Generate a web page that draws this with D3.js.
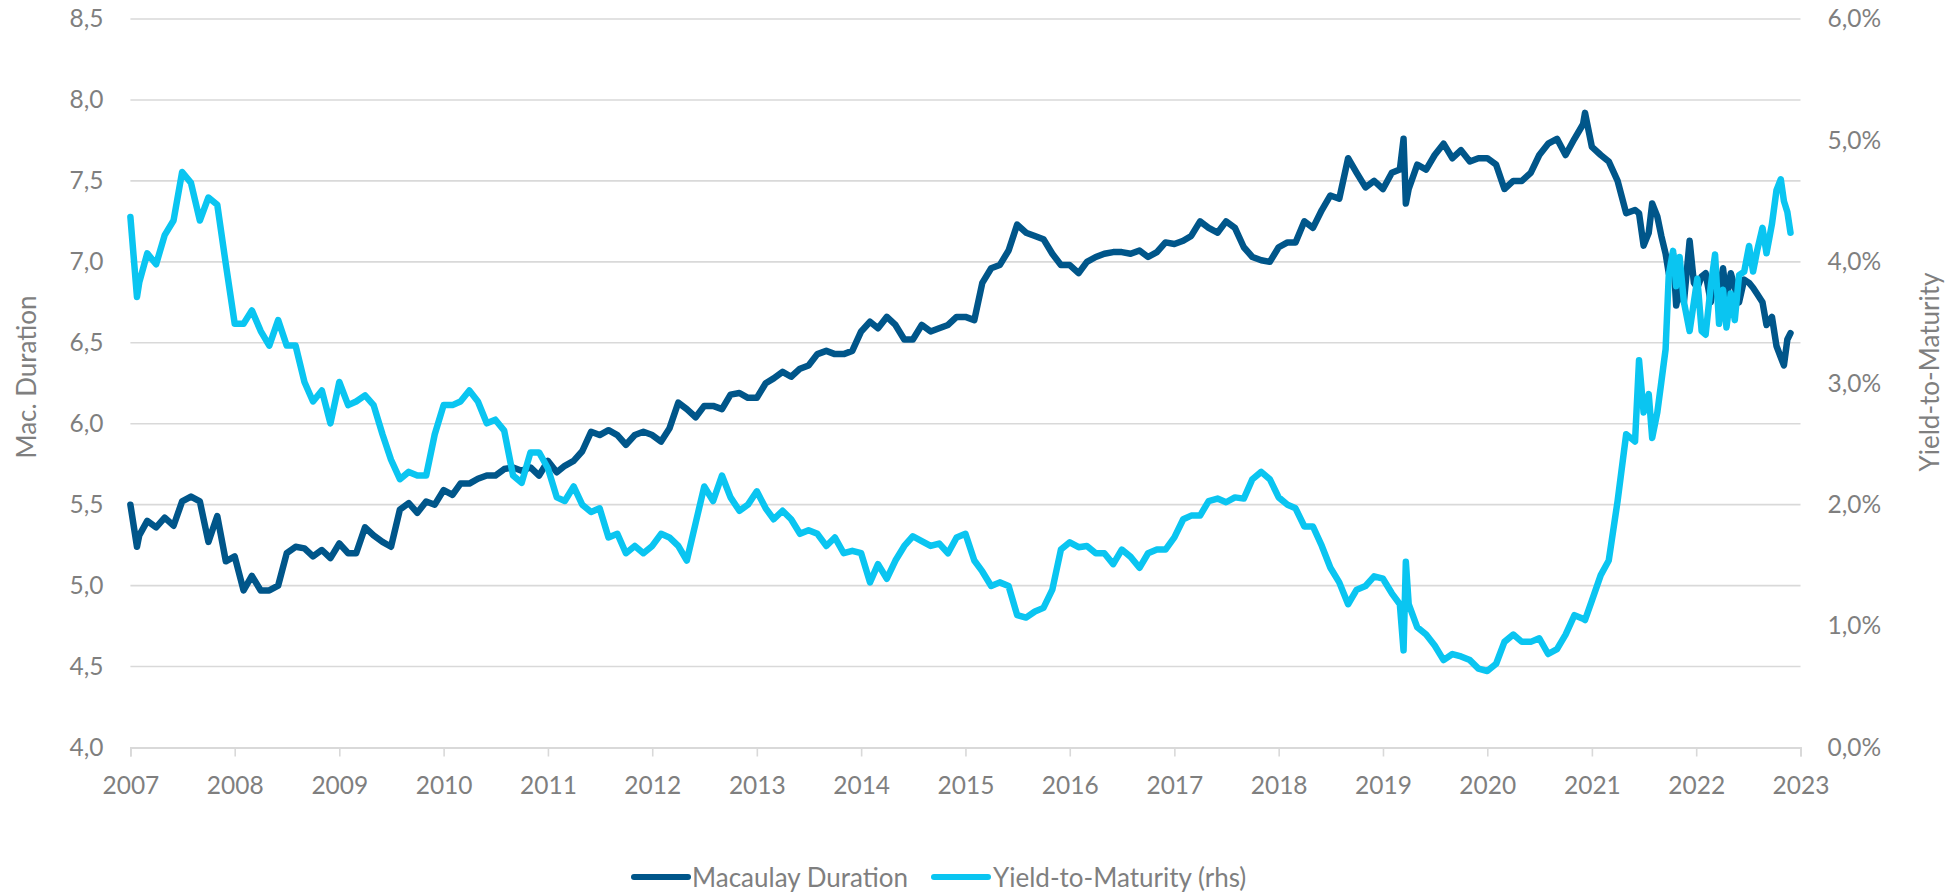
<!DOCTYPE html>
<html><head><meta charset="utf-8">
<script src="https://cdn.jsdelivr.net/npm/d3@7"></script>
<style>
body{margin:0;background:#fff}
svg text{font-family:Lato,"Open Sans",sans-serif;fill:#7f7f7f}
</style>
</head><body>
<svg id="chart" width="1946" height="892"></svg>
<script>
// ---- data ----
const dates = [
"2007-01-01","2007-01-24","2007-02","2007-03","2007-04","2007-05","2007-06","2007-07","2007-08","2007-09","2007-10","2007-11","2007-12",
"2008-01","2008-02","2008-03","2008-04","2008-05","2008-06","2008-07","2008-08","2008-09","2008-10","2008-11","2008-12",
"2009-01","2009-02","2009-03","2009-04","2009-05","2009-06","2009-07","2009-08","2009-09","2009-10","2009-11","2009-12",
"2010-01","2010-02","2010-03","2010-04","2010-05","2010-06","2010-07","2010-08","2010-09","2010-10","2010-11","2010-12",
"2011-01","2011-02","2011-03","2011-04","2011-05","2011-06","2011-07","2011-08","2011-09","2011-10","2011-11","2011-12",
"2012-01","2012-02","2012-03","2012-04","2012-05","2012-06","2012-07","2012-08","2012-09","2012-10","2012-11","2012-12",
"2013-01","2013-02","2013-03","2013-04","2013-05","2013-06","2013-07","2013-08","2013-09","2013-10","2013-11","2013-12",
"2014-01","2014-02","2014-03","2014-04","2014-05","2014-06","2014-07","2014-08","2014-09","2014-10","2014-11","2014-12",
"2015-01","2015-02","2015-03","2015-04","2015-05","2015-06","2015-07","2015-08","2015-09","2015-10","2015-11","2015-12",
"2016-01","2016-02","2016-03","2016-04","2016-05","2016-06","2016-07","2016-08","2016-09","2016-10","2016-11","2016-12",
"2017-01","2017-02","2017-03","2017-04","2017-05","2017-06","2017-07","2017-08","2017-09","2017-10","2017-11","2017-12",
"2018-01","2018-02","2018-03","2018-04","2018-05","2018-06","2018-07","2018-08","2018-09","2018-10","2018-11","2018-12",
"2019-01","2019-02","2019-03","2019-03-14","2019-03-22","2019-04","2019-05","2019-06","2019-07","2019-08","2019-09","2019-10","2019-11","2019-12",
"2020-01","2020-02","2020-03","2020-04","2020-05","2020-06","2020-07","2020-08","2020-09","2020-10","2020-11","2020-12","2020-12-08",
"2021-01","2021-02","2021-03","2021-04","2021-05","2021-06","2021-06-15","2021-07-01","2021-07-19","2021-07-31","2021-08-18",
"2021-09-01","2021-09-16","2021-09-27","2021-10-12","2021-10-23","2021-11-04","2021-11-19","2021-12-09","2021-12-24",
"2022-01-05","2022-01-20","2022-02-03","2022-02-21","2022-03-08","2022-03-22","2022-04-05","2022-04-17","2022-05-02","2022-05-16","2022-05-31",
"2022-06-18","2022-07-05","2022-07-19","2022-08-03","2022-08-21","2022-09-04","2022-09-23","2022-10-09","2022-10-24","2022-11-04","2022-11-16","2022-11-27"
];
const duration = [
5.50,5.24,5.31,5.40,5.36,5.42,5.37,5.52,5.55,5.52,5.27,5.43,5.15,
5.18,4.97,5.06,4.97,4.97,5.00,5.20,5.24,5.23,5.18,5.22,5.17,
5.26,5.20,5.20,5.36,5.31,5.27,5.24,5.47,5.51,5.45,5.52,5.50,
5.59,5.56,5.63,5.63,5.66,5.68,5.68,5.72,5.73,5.71,5.73,5.68,
5.77,5.70,5.74,5.77,5.83,5.95,5.93,5.96,5.93,5.87,5.93,5.95,
5.93,5.89,5.97,6.13,6.09,6.04,6.11,6.11,6.09,6.18,6.19,6.16,
6.16,6.25,6.28,6.32,6.29,6.34,6.36,6.43,6.45,6.43,6.43,6.45,
6.57,6.63,6.59,6.66,6.61,6.52,6.52,6.61,6.57,6.59,6.61,6.66,
6.66,6.64,6.87,6.96,6.98,7.07,7.23,7.18,7.16,7.14,7.05,6.98,
6.98,6.93,7.00,7.03,7.05,7.06,7.06,7.05,7.07,7.03,7.06,7.12,
7.11,7.13,7.16,7.25,7.21,7.18,7.25,7.21,7.09,7.03,7.01,7.00,
7.09,7.12,7.12,7.25,7.21,7.32,7.41,7.39,7.64,7.55,7.46,7.50,
7.45,7.55,7.57,7.76,7.36,7.45,7.60,7.57,7.66,7.73,7.64,7.69,7.62,7.64,
7.64,7.60,7.45,7.50,7.50,7.55,7.66,7.73,7.76,7.66,7.76,7.85,7.92,
7.71,7.66,7.62,7.50,7.30,7.32,7.30,7.10,7.18,7.36,7.28,
7.16,7.05,6.93,7.05,6.73,6.84,6.75,7.13,6.87,
6.84,6.91,6.93,6.75,6.91,6.82,6.96,6.77,6.93,6.84,6.75,
6.89,6.87,6.84,6.80,6.75,6.61,6.66,6.48,6.41,6.36,6.52,6.56
];
const ytm = [ // percent
4.37,3.71,3.83,4.07,3.98,4.22,4.34,4.74,4.65,4.34,4.53,4.47,3.98,
3.49,3.49,3.60,3.43,3.31,3.52,3.31,3.31,3.01,2.85,2.94,2.67,
3.01,2.82,2.85,2.90,2.82,2.58,2.37,2.21,2.27,2.24,2.24,2.58,
2.82,2.82,2.85,2.94,2.85,2.67,2.70,2.61,2.24,2.18,2.43,2.43,
2.30,2.06,2.03,2.15,2.00,1.94,1.97,1.73,1.76,1.60,1.66,1.60,
1.66,1.76,1.73,1.66,1.54,1.85,2.15,2.03,2.24,2.06,1.95,2.00,
2.11,1.97,1.88,1.95,1.88,1.76,1.79,1.76,1.66,1.73,1.60,1.62,
1.60,1.36,1.51,1.39,1.54,1.66,1.74,1.70,1.66,1.68,1.60,1.73,
1.76,1.54,1.45,1.33,1.36,1.33,1.09,1.07,1.12,1.15,1.30,1.63,
1.69,1.65,1.66,1.60,1.60,1.51,1.63,1.57,1.48,1.60,1.63,1.63,
1.73,1.88,1.91,1.91,2.03,2.05,2.02,2.06,2.05,2.21,2.27,2.21,
2.06,2.00,1.97,1.82,1.82,1.66,1.48,1.36,1.18,1.30,1.33,1.41,
1.39,1.27,1.18,0.80,1.53,1.18,0.99,0.93,0.84,0.72,0.77,0.75,0.72,0.65,
0.63,0.69,0.87,0.93,0.87,0.87,0.90,0.77,0.81,0.93,1.09,1.06,1.05,
1.21,1.42,1.54,2.03,2.58,2.52,3.19,2.76,2.91,2.55,2.76,
3.01,3.28,3.89,4.09,3.80,4.04,3.67,3.43,3.67,
3.86,3.43,3.40,3.80,4.06,3.49,3.77,3.46,3.74,3.52,3.89,
3.92,4.13,3.92,4.10,4.28,4.07,4.31,4.59,4.68,4.50,4.41,4.24
];
const leftTicks = [4.0,4.5,5.0,5.5,6.0,6.5,7.0,7.5,8.0,8.5];
const rightTicks = [0,1,2,3,4,5,6];
const yearTicks = [2007,2008,2009,2010,2011,2012,2013,2014,2015,2016,2017,2018,2019,2020,2021,2022,2023];
const seriesNames = ["Macaulay Duration","Yield-to-Maturity (rhs)"];
const axisTitles = ["Mac. Duration","Yield-to-Maturity"];
const colors = ["#00568A","#0AC5F1"];

// ---- chart ----
const parse = d3.timeParse("%Y-%m-%d");
const toDate = s => parse(s.length === 7 ? s + "-01" : s);
const rows = dates.map((d,i) => ({t: toDate(d), dur: duration[i], ytm: ytm[i]}));

const L = 130.4, R = 1800.5, T = 19, B = 747.5;
const svg = d3.select("#chart");
const x = d3.scaleTime().domain([new Date(2007,0,1), new Date(2023,0,1)]).range([L, R]);
const yL = d3.scaleLinear().domain([4, 8.5]).range([B, T]);
const yR = d3.scaleLinear().domain([0, 6]).range([B, T]);
const loc = d3.formatLocale({decimal: ",", thousands: ".", grouping: [3], currency: ["", "€"]});
const fL = loc.format(".1f");
const fR = v => loc.format(".1f")(v) + "%";

// gridlines
svg.append("g").selectAll("line").data(leftTicks.filter(v => v > 4)).join("line")
  .attr("x1", L).attr("x2", R).attr("y1", d => yL(d)).attr("y2", d => yL(d))
  .attr("stroke", "#d9d9d9").attr("stroke-width", 1.6);

// x axis
const xAxis = svg.append("g").attr("transform", `translate(0,${B})`)
  .call(d3.axisBottom(x).tickValues(yearTicks.map(y => new Date(y,0,1))).tickSize(9).tickFormat(d3.timeFormat("%Y")));
xAxis.select(".domain").attr("stroke", "#d9d9d9").attr("stroke-width", 1.8);
xAxis.selectAll(".tick line").attr("stroke", "#d9d9d9").attr("stroke-width", 1.6);
xAxis.selectAll(".tick text").attr("font-size", 24.5).attr("dy", 0).attr("y", 46)
  .style("font-family", "Lato").attr("fill", "#7f7f7f");

// left labels
const yAxL = svg.append("g").attr("transform", `translate(${L},0)`)
  .call(d3.axisLeft(yL).tickValues(leftTicks).tickSize(0).tickPadding(27).tickFormat(fL));
yAxL.select(".domain").remove();
yAxL.selectAll("text").attr("font-size", 24.5).style("font-family","Lato").attr("fill","#7f7f7f");

// right labels
const yAxR = svg.append("g").attr("transform", `translate(${R},0)`)
  .call(d3.axisRight(yR).tickValues(rightTicks).tickSize(0).tickPadding(27).tickFormat(fR));
yAxR.select(".domain").remove();
yAxR.selectAll("text").attr("font-size", 24.5).style("font-family","Lato").attr("fill","#7f7f7f");

// axis titles
svg.append("text").attr("transform", "translate(26,377) rotate(-90)")
  .attr("text-anchor","middle").attr("dominant-baseline","central")
  .attr("font-size", 26).text(axisTitles[0]);
svg.append("text").attr("transform", "translate(1929,372) rotate(-90)")
  .attr("text-anchor","middle").attr("dominant-baseline","central")
  .attr("font-size", 26).text(axisTitles[1]);

// lines
const lineD = d3.line().x(d => x(d.t)).y(d => yL(d.dur));
const lineY = d3.line().x(d => x(d.t)).y(d => yR(d.ytm));
svg.append("path").datum(rows).attr("d", lineD).attr("fill","none")
  .attr("stroke", colors[0]).attr("stroke-width", 6.5).attr("stroke-linejoin","round").attr("stroke-linecap","round");
svg.append("path").datum(rows).attr("d", lineY).attr("fill","none")
  .attr("stroke", colors[1]).attr("stroke-width", 6.5).attr("stroke-linejoin","round").attr("stroke-linecap","round");

// legend
const legY = 877;
const leg = [{x1:634, x2:688, tx:692}, {x1:934, x2:988, tx:993}];
leg.forEach((p,i) => {
  svg.append("line").attr("x1",p.x1).attr("x2",p.x2).attr("y1",legY).attr("y2",legY)
    .attr("stroke",colors[i]).attr("stroke-width",6).attr("stroke-linecap","round");
  svg.append("text").attr("x",p.tx).attr("y",legY).attr("dominant-baseline","central")
    .attr("font-size",26).text(seriesNames[i]);
});
</script>
</body></html>
